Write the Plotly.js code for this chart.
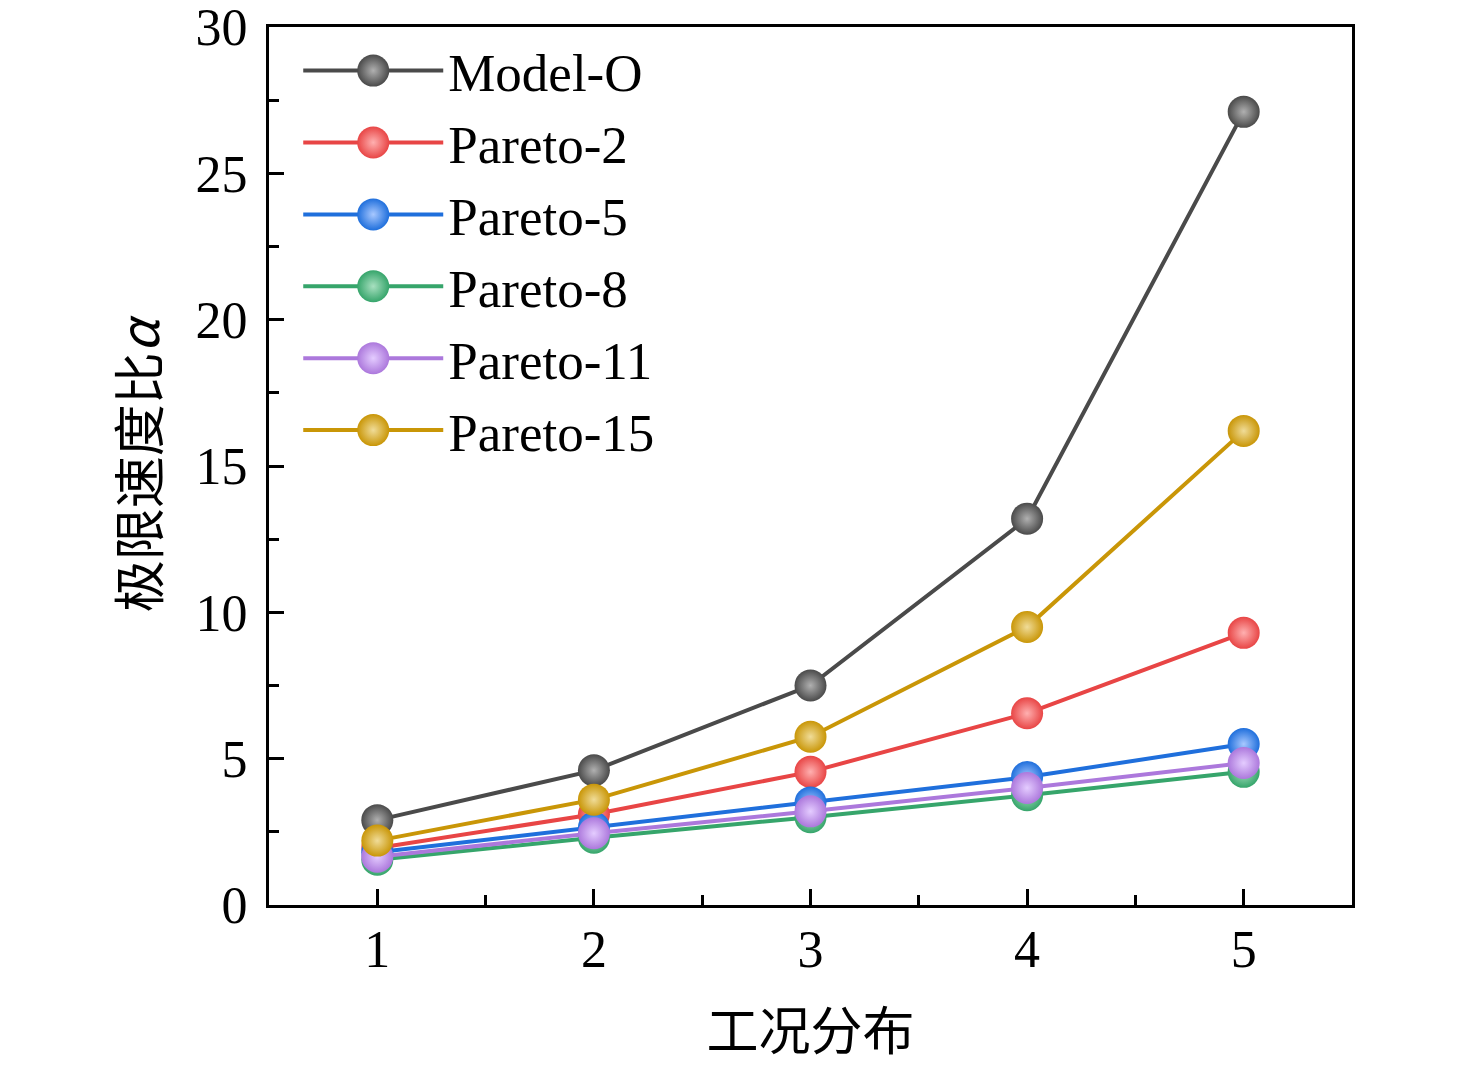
<!DOCTYPE html>
<html>
<head>
<meta charset="utf-8">
<script src="https://cdn.plot.ly/plotly-3.0.1.min.js"></script>
<style>
  body { margin: 0; background: #fff; }
  #chart { width: 1476px; height: 1066px; }
</style>
</head>
<body>
<div id="chart"></div>
<script>
// case index on x, limit speed ratio on y
let cases = [1, 2, 3, 4, 5];
let seriesNames = ["Model-O", "Pareto-2", "Pareto-5", "Pareto-8", "Pareto-11", "Pareto-15"];
let modelO   = [2.9, 4.6, 7.5, 13.2, 27.1];
let pareto2  = [1.95, 3.1, 4.55, 6.55, 9.3];
let pareto5  = [1.8, 2.65, 3.5, 4.37, 5.5];
let pareto8  = [1.55, 2.3, 3.0, 3.75, 4.55];
let pareto11 = [1.65, 2.45, 3.2, 4.0, 4.85];
let pareto15 = [2.2, 3.6, 5.75, 9.5, 16.2];
let colors    = ["#4a4a4a", "#e84545", "#1f6fdc", "#36a56b", "#ac78dc", "#c99607"];
let highlight = ["#b0b0b0", "#ffb0b0", "#a8c8ff", "#a8e0c0", "#e4ccff", "#f0dc98"];

let allValues = [modelO, pareto2, pareto5, pareto8, pareto11, pareto15];

// draw order so purple/green end up as in the picture
let drawOrder = [0, 1, 3, 2, 4, 5];
let traces = [];
for (let i of drawOrder) {
    traces.push({
        x: cases,
        y: allValues[i],
        name: seriesNames[i],
        type: "scatter",
        mode: "lines+markers",
        line: { color: colors[i], width: 4 },
        marker: {
            size: 32,
            color: colors[i],
            gradient: { type: "radial", color: highlight[i] }
        },
        legendrank: i + 1
    });
}

let serif = "Liberation Serif, Times New Roman, serif";
let axisFont = { family: serif, size: 52, color: "#000" };
let titleFont = { family: "Noto Sans CJK SC, sans-serif", size: 52, color: "#000" };

let layout = {
    width: 1476,
    height: 1066,
    margin: { l: 269, r: 124, t: 27, b: 161 },
    paper_bgcolor: "#fff",
    plot_bgcolor: "#fff",
    showlegend: true,
    legend: {
        x: 0.027, y: 0.997,
        xanchor: "left", yanchor: "top",
        bgcolor: "rgba(0,0,0,0)",
        font: { family: serif, size: 53, color: "#000" },
        tracegroupgap: 0,
        itemwidth: 140
    },
    xaxis: {
        range: [0.5, 5.5],
        tickvals: cases,
        ticks: "inside",
        ticklen: 16,
        tickwidth: 3,
        tickcolor: "#000",
        ticklabelstandoff: -3,
        ticklabeloverflow: "allow",
        minor: { dtick: 0.5, tick0: 0.5, ticks: "inside", ticklen: 10, tickwidth: 3, tickcolor: "#000" },
        showline: true,
        linecolor: "#000",
        linewidth: 3,
        mirror: true,
        showgrid: false,
        zeroline: false,
        tickfont: axisFont,
        title: { text: "工况分布", font: titleFont, standoff: 37 }
    },
    yaxis: {
        range: [0, 30],
        dtick: 5,
        ticks: "inside",
        ticklen: 15,
        tickwidth: 3,
        tickcolor: "#000",
        ticklabelstandoff: 8,
        ticklabeloverflow: "allow",
        minor: { dtick: 2.5, ticks: "inside", ticklen: 10, tickwidth: 3, tickcolor: "#000" },
        showline: true,
        linecolor: "#000",
        linewidth: 3,
        mirror: true,
        showgrid: false,
        zeroline: false,
        tickfont: axisFont,
        title: { text: "极限速度比<i>α</i>", font: titleFont, standoff: 20 }
    }
};

Plotly.newPlot("chart", traces, layout, { displayModeBar: false, staticPlot: true }).then(function(gd){
    // legend markers are capped in size, blow them up to match the plot markers
    gd.querySelectorAll(".legend .legendpoints path").forEach(function(p){
        let t = p.getAttribute("transform") || "";
        p.setAttribute("transform", t + " scale(2)");
    });
    gd.querySelectorAll(".legend .legendlines path").forEach(function(p){
        p.style.strokeWidth = "4px";
    });
});
</script>
</body>
</html>
